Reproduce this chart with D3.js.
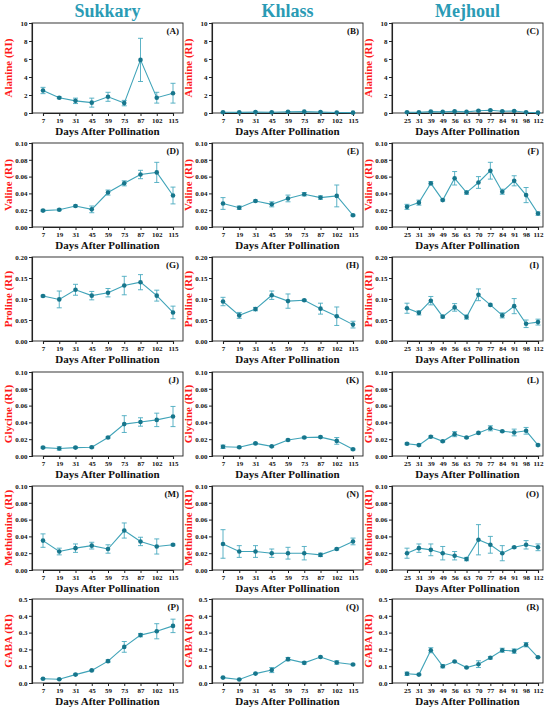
<!DOCTYPE html>
<html><head><meta charset="utf-8">
<script src="https://cdn.jsdelivr.net/npm/d3@7"></script>
<style>
body{margin:0;background:#fff;}
svg text{font-family:"Liberation Serif","Times New Roman",serif;font-weight:bold;}
</style></head>
<body><svg id="c" width="550" height="711"></svg>
<script>
// ---- data ----
const cultivars = ["Sukkary","Khlass","Mejhoul"];
const daysSK = [7,19,31,45,59,73,87,102,115];
const daysM = [25,31,39,49,56,63,70,77,84,91,98,112];
const compounds = ["Alanine","Valine","Proline","Glycine","Methionine","GABA"];
const yMax = [10,0.10,0.20,0.10,0.10,0.5];
const yStep = [2,0.02,0.05,0.02,0.02,0.1];
const yDec = [0,2,2,2,2,1];
const panelLetters = ["A","B","C","D","E","F","G","H","I","J","K","L","M","N","O","P","Q","R"];

// means and errors per panel (row-major: compound x cultivar)
const alanineSukkary = [2.5,1.7,1.35,1.15,1.8,1.1,5.9,1.7,2.2];
const alanineSukkaryErr = [0.35,0.1,0.3,0.5,0.5,0.3,2.4,0.6,1.1];
const alanineKhlass = [0.08,0.07,0.1,0.08,0.13,0.15,0.1,0.06,0.04];
const alanineKhlassErr = [0.02,0.02,0.03,0.02,0.03,0.03,0.02,0.02,0.01];
const alanineMejhoul = [0.08,0.07,0.15,0.12,0.18,0.12,0.25,0.3,0.2,0.22,0.08,0.04];
const alanineMejhoulErr = [0.03,0.02,0.05,0.03,0.05,0.03,0.05,0.05,0.04,0.05,0.02,0.01];

const valineSukkary = [0.0195,0.0205,0.025,0.021,0.041,0.052,0.0625,0.065,0.0375];
const valineSukkaryErr = [0.001,0.001,0.001,0.004,0.003,0.003,0.005,0.012,0.010];
const valineKhlass = [0.028,0.023,0.031,0.027,0.034,0.039,0.035,0.037,0.014];
const valineKhlassErr = [0.007,0.002,0.001,0.003,0.004,0.002,0.002,0.013,0.001];
const valineMejhoul = [0.024,0.029,0.052,0.032,0.058,0.041,0.053,0.067,0.042,0.055,0.038,0.016];
const valineMejhoulErr = [0.003,0.003,0.002,0.001,0.008,0.002,0.007,0.010,0.003,0.006,0.009,0.002];

const prolineSukkary = [0.107,0.099,0.122,0.108,0.115,0.132,0.140,0.108,0.068];
const prolineSukkaryErr = [0.002,0.02,0.013,0.01,0.01,0.022,0.018,0.013,0.015];
const prolineKhlass = [0.094,0.061,0.076,0.109,0.095,0.097,0.077,0.059,0.039];
const prolineKhlassErr = [0.01,0.007,0.004,0.01,0.017,0.002,0.013,0.022,0.008];
const prolineMejhoul = [0.078,0.067,0.096,0.058,0.080,0.057,0.110,0.086,0.061,0.083,0.041,0.045];
const prolineMejhoulErr = [0.012,0.005,0.01,0.003,0.009,0.005,0.014,0.002,0.006,0.018,0.009,0.007];

const glycineSukkary = [0.010,0.009,0.010,0.0105,0.022,0.038,0.0405,0.043,0.047];
const glycineSukkaryErr = [0.001,0.002,0.001,0.001,0.001,0.01,0.005,0.008,0.012];
const glycineKhlass = [0.011,0.0105,0.015,0.0115,0.019,0.022,0.0225,0.018,0.008];
const glycineKhlassErr = [0.002,0.001,0.001,0.001,0.001,0.001,0.001,0.004,0.001];
const glycineMejhoul = [0.0145,0.013,0.023,0.0175,0.026,0.022,0.0275,0.033,0.0295,0.028,0.030,0.013];
const glycineMejhoulErr = [0.001,0.001,0.001,0.001,0.003,0.001,0.001,0.003,0.001,0.004,0.004,0.001];

const methionineSukkary = [0.035,0.022,0.026,0.029,0.025,0.047,0.034,0.028,0.030];
const methionineSukkaryErr = [0.008,0.004,0.005,0.004,0.005,0.009,0.005,0.009,0.001];
const methionineKhlass = [0.031,0.022,0.022,0.020,0.020,0.020,0.018,0.025,0.034];
const methionineKhlassErr = [0.017,0.007,0.007,0.005,0.007,0.008,0.002,0.001,0.004];
const methionineMejhoul = [0.020,0.026,0.024,0.020,0.017,0.013,0.036,0.030,0.020,0.027,0.030,0.027];
const methionineMejhoulErr = [0.006,0.005,0.007,0.008,0.005,0.002,0.018,0.01,0.009,0.001,0.005,0.004];

const gabaSukkary = [0.025,0.022,0.050,0.075,0.130,0.215,0.285,0.308,0.340];
const gabaSukkaryErr = [0.002,0.002,0.005,0.003,0.007,0.032,0.010,0.045,0.04];
const gabaKhlass = [0.032,0.021,0.056,0.077,0.142,0.120,0.155,0.122,0.110];
const gabaKhlassErr = [0.003,0.002,0.003,0.015,0.01,0.007,0.004,0.01,0.004];
const gabaMejhoul = [0.055,0.050,0.195,0.100,0.128,0.092,0.112,0.150,0.195,0.190,0.228,0.153];
const gabaMejhoulErr = [0.01,0.004,0.015,0.01,0.003,0.003,0.02,0.007,0.012,0.013,0.013,0.003];

const means = [
  [alanineSukkary,alanineKhlass,alanineMejhoul],
  [valineSukkary,valineKhlass,valineMejhoul],
  [prolineSukkary,prolineKhlass,prolineMejhoul],
  [glycineSukkary,glycineKhlass,glycineMejhoul],
  [methionineSukkary,methionineKhlass,methionineMejhoul],
  [gabaSukkary,gabaKhlass,gabaMejhoul]];
const errs = [
  [alanineSukkaryErr,alanineKhlassErr,alanineMejhoulErr],
  [valineSukkaryErr,valineKhlassErr,valineMejhoulErr],
  [prolineSukkaryErr,prolineKhlassErr,prolineMejhoulErr],
  [glycineSukkaryErr,glycineKhlassErr,glycineMejhoulErr],
  [methionineSukkaryErr,methionineKhlassErr,methionineMejhoulErr],
  [gabaSukkaryErr,gabaKhlassErr,gabaMejhoulErr]];

// ---- layout ----
const colLeft = [32,212,392];
const plotW = 151;
const rowBottom = [113,227,341,456,570,683];
const rowTop = [23,143,257,372,486,599];
const lineColor = "#3fa3b8", dotColor = "#17768c", errColor = "#4aaabf";
const svg = d3.select("#c");

cultivars.forEach((c,ci)=>{
  svg.append("text").attr("x",colLeft[ci]+plotW/2).attr("y",17)
    .attr("text-anchor","middle").attr("font-size",18).attr("fill","#2a9bb5").text(c);
});

compounds.forEach((comp,ri)=>{
  cultivars.forEach((cult,ci)=>{
    const days = ci===2 ? daysM : daysSK;
    const L = colLeft[ci], R = L+plotW, T = rowTop[ri], B = rowBottom[ri];
    const x = d3.scalePoint().domain(days)
      .range(ci===2 ? [L+15, R-5] : [L+11, R-10]);
    const y = d3.scaleLinear().domain([0,yMax[ri]]).range([B,T]);
    const g = svg.append("g");
    // frame
    g.append("rect").attr("x",L).attr("y",T).attr("width",plotW).attr("height",B-T)
      .attr("fill","none").attr("stroke","#222").attr("stroke-width",0.9);
    const ticks = d3.range(0, yMax[ri]+yStep[ri]/2, yStep[ri]);
    const ya = d3.axisLeft(y).tickValues(ticks).tickSize(3).tickPadding(1.5)
      .tickFormat(d3.format("."+yDec[ri]+"f"));
    const yg = g.append("g").attr("transform",`translate(${L},0)`).call(ya);
    const xa = d3.axisBottom(x).tickSize(3).tickPadding(2.5);
    const xg = g.append("g").attr("transform",`translate(0,${B})`).call(xa);
    [yg,xg].forEach(a=>{
      a.select(".domain").attr("stroke","#222").attr("stroke-width",1.1);
      a.selectAll(".tick line").attr("stroke","#222");
      a.selectAll("text").attr("font-family","Liberation Serif").attr("font-weight","bold")
        .attr("font-size",7).attr("fill","#111");
    });
    // y label
    g.append("text").attr("transform",`translate(${L-20},${(T+B)/2}) rotate(-90)`)
      .attr("text-anchor","middle").attr("font-size",11).attr("fill","#ff1a1a")
      .text(comp+" (RI)");
    // x label
    g.append("text").attr("x",L+plotW/2).attr("y",B+22).attr("text-anchor","middle")
      .attr("font-size",11).attr("fill","#111").text("Days After Pollination");
    // panel letter
    g.append("text").attr("x",R-4).attr("y",T+11).attr("text-anchor","end")
      .attr("font-size",9).attr("fill","#111").text("("+panelLetters[ri*3+ci]+")");
    const m = means[ri][ci], e = errs[ri][ci];
    const pts = days.map((d,i)=>({d, v:m[i], e:e[i]}));
    // error bars
    const eb = g.append("g").attr("stroke",errColor).attr("stroke-width",0.9);
    pts.forEach(p=>{
      const cx = x(p.d), y1 = y(p.v+p.e), y2 = y(Math.max(0,p.v-p.e));
      eb.append("line").attr("x1",cx).attr("x2",cx).attr("y1",y1).attr("y2",y2);
      eb.append("line").attr("x1",cx-2.5).attr("x2",cx+2.5).attr("y1",y1).attr("y2",y1);
      eb.append("line").attr("x1",cx-2.5).attr("x2",cx+2.5).attr("y1",y2).attr("y2",y2);
    });
    g.append("path").datum(pts)
      .attr("d",d3.line().x(p=>x(p.d)).y(p=>y(p.v)))
      .attr("fill","none").attr("stroke",lineColor).attr("stroke-width",1.1);
    g.selectAll("circle.pt").data(pts).join("circle").attr("class","pt")
      .attr("cx",p=>x(p.d)).attr("cy",p=>y(p.v)).attr("r",2.3).attr("fill",dotColor);
  });
});
</script></body></html>
